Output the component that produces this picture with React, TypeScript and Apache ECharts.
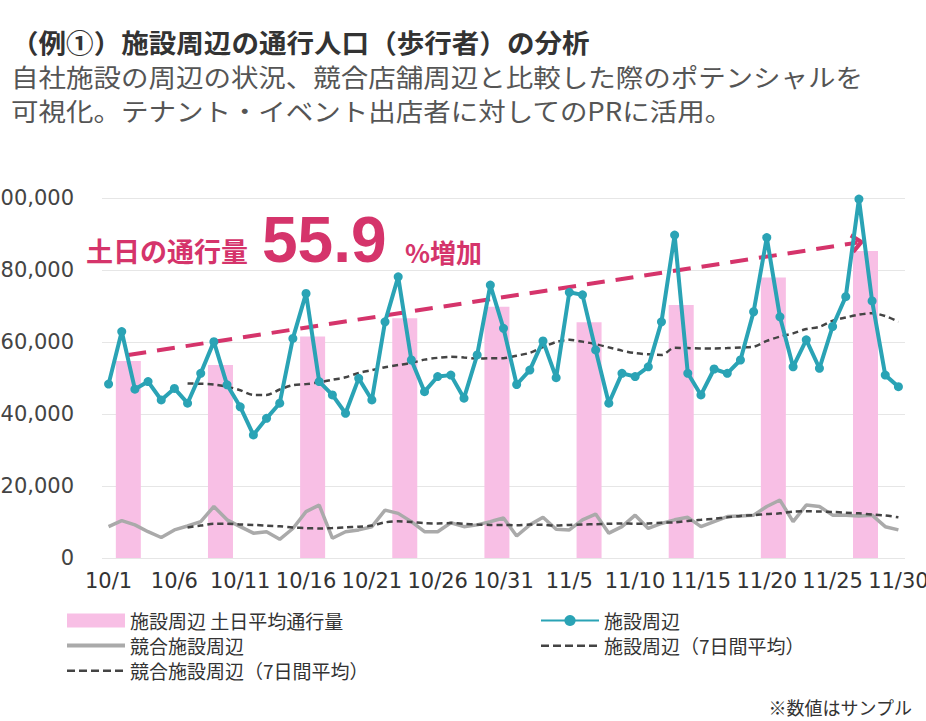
import React, { useEffect, useRef } from "react";
import * as echarts from "echarts";

// ---- data ----
const dates: string[] = [];
for (let d = 1; d <= 31; d++) dates.push(`10/${d}`);
for (let d = 1; d <= 30; d++) dates.push(`11/${d}`);

const visitors = [
  48300, 62900, 46900, 49000, 43900, 47100, 43000, 51300, 60100, 48100, 42000, 34200, 38800, 43000, 61000, 73500,
  49000, 45300, 40200, 49900, 43900, 65600, 78100, 55000, 46200, 50400, 50800, 44400, 56400, 75800, 63800,
  48200, 52200, 60300, 50100, 73800, 73100, 57800, 43000, 51300, 50400, 53100, 65600, 89700, 51300, 45300,
  52500, 51300, 55000, 68400, 89000, 67000, 53100, 60600, 52700, 64300, 72600, 99700, 71400, 50800, 47600,
];

const competitor = [
  8700, 10400, 9200, 7300, 5700, 7800, 8900, 10100, 14300, 10600, 8700, 6900, 7300, 5200, 8200, 12900,
  14700, 5500, 7300, 7800, 8700, 13300, 12400, 10100, 7300, 7300, 9800, 8700, 9200, 10100, 11100,
  6100, 9200, 11300, 8000, 7800, 10600, 12200, 6900, 8700, 11900, 8200, 9600, 10600, 11300, 8700,
  10100, 11500, 11700, 11900, 14300, 16100, 10100, 14700, 14300, 11900, 11900, 11700, 11900, 8700, 7800,
];

const visitorsAvg = [
  null, null, null, null, null, null,
  48500, 48400, 48200, 47600, 46600, 45300, 45300, 46800, 48000, 48300,
  48800, 49500, 50200, 51400, 52200, 53000, 53600, 54200, 55100, 55600,
  55900, 55700, 55400, 55500, 55500, 56200, 57000, 58600, 60000, 60600,
  60100, 59400, 58500, 57600, 56900, 56600, 56400, 58400, 58300, 58200,
  58200, 58300, 58500, 58700, 60300, 61500, 62400, 63600, 64200, 65900,
  66800, 67600, 68000, 67200, 65600,
];

const competitorAvg = [
  null, null, null, null, null, null,
  8500, 9000, 9500, 9500, 9300, 9200, 9000, 8800, 8500, 8300,
  8200, 8300, 8500, 8700, 9000, 9900, 10200, 10000, 9700, 9600,
  9700, 9500, 9300, 9200, 9200, 9100, 9300, 9200, 9000, 9200,
  9300, 9400, 9500, 9600, 9500, 9600, 9800, 9900, 10300, 10600,
  10900, 11300, 11700, 11900, 12200, 12400, 12900, 13000, 12900, 12800,
  12600, 12400, 12100, 11800, 11300,
];

// weekend (Sat/Sun) bars sit between the two days they cover
const weekendIdx = [1.5, 8.5, 15.5, 22.5, 29.5, 36.5, 43.5, 50.5, 57.5];
const weekendAvg = [54700, 53600, 61500, 66600, 69800, 65500, 70300, 77900, 85300];

const arrowFrom = [1.5, 56400];
const arrowTo = [56.9, 87600];

const yTicks = { min: 0, max: 100000, interval: 20000 };

const NAME_BAR = "施設周辺 土日平均通行量";
const NAME_VIS = "施設周辺";
const NAME_COMP = "競合施設周辺";
const NAME_VIS_AVG = "施設周辺（7日間平均）";
const NAME_COMP_AVG = "競合施設周辺（7日間平均）";

const CJK = '"Noto Sans CJK JP", sans-serif';
const NUM = '"DejaVu Sans", sans-serif';
const PINK = "#f8bfe5";
const TEAL = "#2aa3b5";
const RED = "#d5346b";

const ICON_SOLID = "path://M0,0h0.1v0.1h-0.1z M0,5h58v4h-58z M57.9,13.9h0.1v0.1h-0.1z";
const ICON_DASH =
  "path://M0,0h0.1v0.1h-0.1z M0,6h8v2.6h-8z M12,6h8v2.6h-8z M24,6h8v2.6h-8z M36,6h8v2.6h-8z M48,6h8v2.6h-8z M57.9,13.9h0.1v0.1h-0.1z";

export default function App() {
  const ref = useRef<HTMLDivElement>(null);

  useEffect(() => {
    if (!ref.current) return;
    const chart = echarts.init(ref.current, null, { renderer: "svg" });

    const legendCommon = {
      orient: "vertical",
      top: 606,
      itemWidth: 58,
      itemHeight: 14,
      itemGap: 6,
      textStyle: { fontFamily: CJK, fontSize: 19, color: "#333" },
      selectedMode: false,
    };

    chart.setOption({
      animation: false,
      backgroundColor: "#ffffff",
      grid: {
        left: 118,
        right: 21,
        top: 198,
        bottom: 163,
        containLabel: false,
        outerBoundsMode: "none",
      },
      xAxis: [
        {
          type: "category",
          data: dates,
          boundaryGap: true,
          axisLine: { show: false },
          axisTick: { show: false },
          axisLabel: {
            interval: 4,
            margin: 12,
            fontFamily: NUM,
            fontSize: 21,
            color: "#333",
          },
          splitLine: { show: false },
        },
        {
          type: "value",
          min: -0.5,
          max: 60.5,
          show: false,
          splitLine: { show: false },
        },
      ],
      yAxis: {
        type: "value",
        min: yTicks.min,
        max: yTicks.max,
        interval: yTicks.interval,
        axisLine: { show: false },
        axisTick: { show: false },
        axisLabel: {
          margin: 28,
          fontFamily: NUM,
          fontSize: 21,
          color: "#444",
          formatter: (v: number) => v.toLocaleString("en-US"),
        },
        splitLine: { lineStyle: { color: "#e6e6e6", width: 1 } },
      },
      legend: [
        {
          ...legendCommon,
          left: 78,
          data: [
            { name: NAME_BAR, icon: "rect" },
            { name: NAME_COMP, icon: ICON_SOLID },
            { name: NAME_COMP_AVG, icon: ICON_DASH },
          ],
        },
        {
          ...legendCommon,
          left: 551,
          data: [{ name: NAME_VIS }, { name: NAME_VIS_AVG, icon: ICON_DASH }],
        },
      ],
      series: [
        {
          name: NAME_BAR,
          type: "bar",
          xAxisIndex: 1,
          barWidth: 25,
          itemStyle: { color: PINK },
          z: 1,
          data: weekendIdx.map((x, i) => [x, weekendAvg[i]]),
          markLine: {
            silent: true,
            symbol: ["none", "path://M10,0 L20,11 L16.5,13.5 L10,6 L3.5,13.5 L0,11 Z"],
            symbolSize: [20, 14],
            lineStyle: { color: RED, width: 4, type: [18, 11], opacity: 1 },
            itemStyle: { color: RED },
            label: { show: false },
            emphasis: { disabled: true },
            data: [[{ coord: arrowFrom }, { coord: arrowTo }]],
          },
        },
        {
          name: NAME_COMP,
          type: "line",
          symbol: "none",
          lineStyle: { color: "#aaaaaa", width: 3.5 },
          itemStyle: { color: "#aaaaaa" },
          z: 2,
          data: competitor,
        },
        {
          name: NAME_COMP_AVG,
          type: "line",
          symbol: "none",
          smooth: 0.3,
          lineStyle: { color: "#444444", width: 2.5, type: [6, 4] },
          itemStyle: { color: "#444444" },
          z: 3,
          data: competitorAvg,
        },
        {
          name: NAME_VIS_AVG,
          type: "line",
          symbol: "none",
          smooth: 0.3,
          lineStyle: { color: "#444444", width: 2.5, type: [6, 4] },
          itemStyle: { color: "#444444" },
          z: 3,
          data: visitorsAvg,
        },
        {
          name: NAME_VIS,
          type: "line",
          symbol: "circle",
          symbolSize: 9,
          showSymbol: true,
          showAllSymbol: true,
          lineStyle: { color: TEAL, width: 4 },
          itemStyle: { color: TEAL },
          z: 5,
          data: visitors,
        },
      ],
      graphic: [
        {
          type: "text",
          x: 27,
          y: 42,
          scaleX: 1.06,
          style: {
            text: "（例①）施設周辺の通行人口（歩行者）の分析",
            fontFamily: CJK,
            fontSize: 26,
            fontWeight: "bold",
            fill: "#333",
            verticalAlign: "middle",
          },
        },
        {
          type: "text",
          x: 27,
          y: 77,
          scaleX: 1.1,
          style: {
            text: "自社施設の周辺の状況、競合店舗周辺と比較した際のポテンシャルを",
            fontFamily: CJK,
            fontSize: 25,
            fill: "#555",
            verticalAlign: "middle",
          },
        },
        {
          type: "text",
          x: 27,
          y: 111,
          scaleX: 1.1,
          style: {
            text: "可視化。テナント・イベント出店者に対してのPRに活用。",
            fontFamily: CJK,
            fontSize: 25,
            fill: "#555",
            verticalAlign: "middle",
          },
        },
        {
          type: "text",
          x: 102,
          y: 250,
          z: 10,
          style: {
            text: "土日の通行量",
            fontFamily: CJK,
            fontSize: 27,
            fontWeight: "bold",
            fill: RED,
            verticalAlign: "middle",
          },
        },
        {
          type: "text",
          x: 278,
          y: 240,
          z: 10,
          style: {
            text: "55.9",
            fontFamily: '"Liberation Sans", Arial, sans-serif',
            fontSize: 64,
            fontWeight: "bold",
            fill: RED,
            verticalAlign: "middle",
          },
        },
        {
          type: "text",
          x: 421,
          y: 251,
          z: 10,
          style: {
            text: "%増加",
            fontFamily: CJK,
            fontSize: 26,
            fontWeight: "bold",
            fill: RED,
            verticalAlign: "middle",
          },
        },
        {
          type: "text",
          x: 928,
          y: 707,
          style: {
            text: "※数値はサンプル",
            fontFamily: CJK,
            fontSize: 18,
            fill: "#333",
            align: "right",
            verticalAlign: "middle",
          },
        },
      ],
    });

    return () => chart.dispose();
  }, []);

  return (
    <div
      ref={ref}
      style={{ position: "fixed", left: -16, top: 0, width: 942, height: 721, background: "#fff" }}
    />
  );
}
